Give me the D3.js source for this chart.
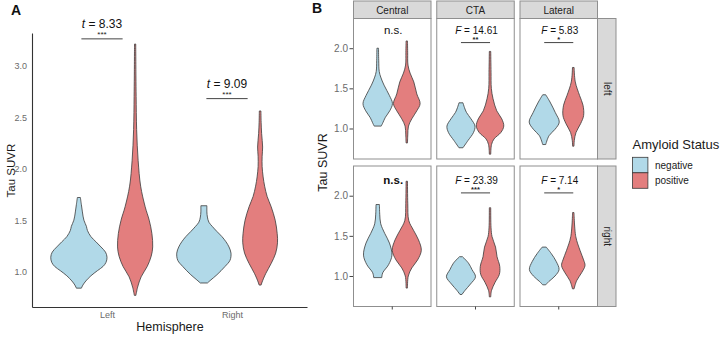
<!DOCTYPE html>
<html><head><meta charset="utf-8">
<script src="https://cdn.jsdelivr.net/npm/d3@7"></script>
<style>
body{margin:0;background:#fff}
text{font-family:"Liberation Sans",Arial,Helvetica,sans-serif}
</style>
</head><body>
<svg id="chart" width="725" height="337"></svg>
<script>
// ---------------- DATA ----------------
const hemispheres = ["Left", "Right"];
const statuses = ["negative", "positive"];
const ticksA = [1.0, 1.5, 2.0, 2.5, 3.0];
const tStats = ["8.33", "9.09"];
const tStars = ["***", "***"];
const tBracketY = [3.26, 2.68];

// Panel A violin outlines: [Tau SUVR, density (arbitrary units)]
const vA_Left_negative = [[1.72,1.5],[1.65,2.5],[1.58,3.5],[1.50,5],[1.44,7.5],[1.40,8.5],[1.34,12],[1.29,17],[1.24,22],[1.19,26.5],[1.14,28],[1.09,27],[1.05,24],[1.01,18.5],[0.96,12],[0.91,7],[0.87,4],[0.84,2.5]];
const vA_Left_positive = [[3.21,0.6],[2.90,0.8],[2.70,1],[2.38,1.5],[2.08,3],[1.83,5.5],[1.63,10],[1.50,14],[1.37,16.7],[1.24,17.5],[1.15,16],[1.05,12],[0.95,6],[0.85,2.5],[0.77,0.8]];
const vA_Right_negative = [[1.64,3],[1.58,3],[1.53,3.5],[1.48,5],[1.44,8.3],[1.39,13],[1.34,18],[1.29,22],[1.24,25],[1.18,27],[1.11,26],[1.05,21],[0.97,13],[0.92,7],[0.89,3.5]];
const vA_Right_positive = [[2.56,0.8],[2.45,1],[2.34,1.5],[2.21,2.5],[2.12,2],[2.02,2],[1.92,3],[1.83,4.5],[1.73,7],[1.63,11],[1.50,15],[1.37,17],[1.28,17.3],[1.18,15.5],[1.08,11],[0.98,5.5],[0.90,2],[0.87,1]];

const regions = ["Central", "CTA", "Lateral"];
const sides = ["left", "right"];
const ticksB = [1.0, 1.5, 2.0];
const fStats = [["n.s.", "14.61", "5.83"], ["n.s.", "23.39", "7.14"]];
const fStars = [["", "**", "*"], ["", "***", "*"]];
const fBracketY = [[2.07, 2.07, 2.07], [2.035, 2.035, 2.035]];

// Panel B violin outlines: [Tau SUVR, density (arbitrary units)]
const vB_left_Central_negative = [[2.00,0.8],[1.85,1],[1.71,1.5],[1.64,3],[1.54,6.3],[1.41,11.7],[1.31,14.7],[1.22,12],[1.14,7.7],[1.06,4.7],[1.03,3.5]];
const vB_left_Central_positive = [[2.09,0.7],[1.95,0.9],[1.79,1.2],[1.69,3.3],[1.58,7],[1.43,10],[1.31,13.3],[1.22,10],[1.12,5],[1.03,1.7],[0.92,1],[0.82,0.7]];
const vB_left_CTA_negative = [[1.32,2],[1.26,3.5],[1.20,5.5],[1.12,10],[1.03,14],[0.95,12.5],[0.85,7],[0.76,2]];
const vB_left_CTA_positive = [[1.96,0.7],[1.70,1],[1.50,1.3],[1.37,3],[1.22,6.7],[1.12,11.7],[1.03,13.7],[0.95,10.8],[0.87,4],[0.80,1.5],[0.68,0.7]];
const vB_left_Lateral_negative = [[1.42,1.5],[1.33,5.8],[1.20,11],[1.08,15],[0.99,10.8],[0.91,4.8],[0.80,1.5]];
const vB_left_Lateral_positive = [[1.76,0.8],[1.58,2],[1.41,6.3],[1.29,9.7],[1.16,10.3],[1.06,7.3],[0.95,2.7],[0.85,1],[0.78,0.7]];
const vB_right_Central_negative = [[1.89,1.7],[1.77,2],[1.65,3],[1.53,7],[1.41,11.7],[1.26,14.2],[1.14,10.8],[1.04,5],[0.98,4]];
const vB_right_Central_positive = [[2.18,0.7],[1.90,1],[1.69,2],[1.57,6.7],[1.45,11.7],[1.32,14.5],[1.20,10.8],[1.10,5],[1.00,1.5],[0.85,0.7]];
const vB_right_CTA_negative = [[1.24,1.5],[1.16,7.5],[1.08,11],[0.99,14.5],[0.90,9.5],[0.82,4],[0.77,1]];
const vB_right_CTA_positive = [[1.85,0.7],[1.60,1],[1.49,2],[1.36,5.5],[1.24,7],[1.12,9.7],[1.02,9.3],[0.92,5],[0.82,1.5],[0.74,0.7]];
const vB_right_Lateral_negative = [[1.36,2],[1.28,7],[1.18,12],[1.08,14.8],[1.00,10.8],[0.93,4.5],[0.89,1.5]];
const vB_right_Lateral_positive = [[1.79,0.7],[1.49,2.5],[1.32,6.7],[1.20,10.3],[1.13,11.7],[1.04,8.3],[0.94,3.3],[0.84,0.8]];

const violinsA = {
  Left: {negative: vA_Left_negative, positive: vA_Left_positive},
  Right: {negative: vA_Right_negative, positive: vA_Right_positive}
};
const violinsB = {
  left: {Central: {negative: vB_left_Central_negative, positive: vB_left_Central_positive},
         CTA: {negative: vB_left_CTA_negative, positive: vB_left_CTA_positive},
         Lateral: {negative: vB_left_Lateral_negative, positive: vB_left_Lateral_positive}},
  right: {Central: {negative: vB_right_Central_negative, positive: vB_right_Central_positive},
          CTA: {negative: vB_right_CTA_negative, positive: vB_right_CTA_positive},
          Lateral: {negative: vB_right_Lateral_negative, positive: vB_right_Lateral_positive}}
};

// ---------------- STYLE ----------------
const fillColor = d3.scaleOrdinal().domain(statuses).range(["#b1d9e8", "#e37e7e"]);
const outline = "#3a3a3a";
const svg = d3.select("#chart");

function violin(g, profile, cx, y, w, fill) {
  const area = d3.area()
    .curve(d3.curveCatmullRom.alpha(0.5))
    .y(d => y(d[0]))
    .x0(d => cx - w(d[1]))
    .x1(d => cx + w(d[1]));
  g.append("path").attr("d", area(profile))
    .attr("fill", fill).attr("stroke", outline).attr("stroke-width", 0.8)
    .attr("stroke-linejoin", "round");
}

// ---------------- PANEL A ----------------
const gA = svg.append("g");
const xA = d3.scalePoint().domain(hemispheres).range([32, 307]).padding(0.6);
const yA = d3.scaleLinear().domain([0.657, 3.317]).range([307, 33]);
const stepA = xA.step();
const dodgeA = d3.scalePoint().domain(statuses).range([-0.225 * stepA, 0.225 * stepA]);
const wA = d3.scaleLinear().domain([0, 28]).range([0, 0.225 * stepA]);

hemispheres.forEach(h => {
  statuses.forEach(s => {
    violin(gA, violinsA[h][s], xA(h) + dodgeA(s), yA, wA, fillColor(s));
  });
});

const axA = gA.append("g").attr("transform", "translate(32,0)")
  .call(d3.axisLeft(yA).tickValues(ticksA).tickFormat(d3.format(".1f")).tickSize(0).tickSizeOuter(0).tickPadding(5));
axA.select(".domain").attr("stroke", "#333").attr("stroke-width", 1.1);
axA.selectAll("text").attr("font-size", 9).attr("fill", "#6b6b6b").attr("font-family", "Liberation Sans, Arial, sans-serif");

const axAx = gA.append("g").attr("transform", "translate(0,307)")
  .call(d3.axisBottom(xA).tickSize(0).tickSizeOuter(0).tickPadding(5));
axAx.select(".domain").attr("stroke", "#333").attr("stroke-width", 1.1);
axAx.selectAll("text").attr("font-size", 9).attr("fill", "#6b6b6b").attr("font-family", "Liberation Sans, Arial, sans-serif");

gA.append("text").attr("x", xA("Left") + (xA("Right") - xA("Left")) / 2 + 0.5).attr("y", 331)
  .attr("text-anchor", "middle").attr("font-size", 12.5).attr("fill", "#1a1a1a").text("Hemisphere");
gA.append("text").attr("transform", `translate(15,${yA(2.0) + 2}) rotate(-90)`)
  .attr("text-anchor", "middle").attr("font-size", 11.5).attr("fill", "#1a1a1a").text("Tau SUVR");
gA.append("text").attr("x", 11).attr("y", 15).attr("font-size", 14).attr("font-weight", "bold").attr("fill", "#111").text("A");

hemispheres.forEach((h, i) => {
  const cx = xA(h) - 0.04 * stepA;
  const ly = yA(tBracketY[i]);
  gA.append("line").attr("x1", cx - 0.165 * stepA).attr("x2", cx + 0.165 * stepA)
    .attr("y1", ly).attr("y2", ly).attr("stroke", "#444").attr("stroke-width", 1);
  gA.append("text").attr("x", cx).attr("y", ly - 2).attr("text-anchor", "middle")
    .attr("font-size", 8).attr("fill", "#222").text(tStars[i]);
  const t = gA.append("text").attr("x", cx).attr("y", ly - 11).attr("text-anchor", "middle")
    .attr("font-size", 12).attr("fill", "#111");
  t.append("tspan").attr("font-style", "italic").text("t");
  t.append("tspan").text(" = " + tStats[i]);
});

// ---------------- PANEL B ----------------
const gB = svg.append("g");
const col = d3.scaleBand().domain(regions).range([353.5, 597.5]).paddingInner(0.069);
const row = d3.scaleBand().domain(sides).range([18.5, 306.5]).paddingInner(0.0475);
const pw = col.bandwidth(), ph = row.bandwidth();
const stepB = pw / 1.2;
const dodgeB = d3.scalePoint().domain(statuses).range([-0.225 * stepB, 0.225 * stepB]);
const wB = d3.scaleLinear().domain([0, 14.5]).range([0, 0.225 * stepB]);
const yDomainB = [0.62, 2.37];

gB.append("text").attr("x", 312).attr("y", 13).attr("font-size", 14).attr("font-weight", "bold").attr("fill", "#111").text("B");

// top strips
regions.forEach(r => {
  gB.append("rect").attr("x", col(r)).attr("y", 1).attr("width", pw).attr("height", 17.5)
    .attr("fill", "#d9d9d9").attr("stroke", "#8f8f8f").attr("stroke-width", 1);
  gB.append("text").attr("x", col(r) + pw / 2).attr("y", 13.5).attr("text-anchor", "middle")
    .attr("font-size", 10).attr("fill", "#222").text(r);
});

sides.forEach((sd, ri) => {
  const y0 = row(sd);
  const yB = d3.scaleLinear().domain(yDomainB).range([y0 + ph, y0]);
  // side strip
  gB.append("rect").attr("x", 597.5).attr("y", y0).attr("width", 18.5).attr("height", ph)
    .attr("fill", "#d9d9d9").attr("stroke", "#8f8f8f").attr("stroke-width", 1);
  gB.append("text").attr("transform", `translate(603.5,${y0 + ph / 2}) rotate(90)`)
    .attr("text-anchor", "middle").attr("font-size", 10).attr("fill", "#222").text(sd);

  // y axis
  const ay = gB.append("g").attr("transform", `translate(${col("Central")},0)`)
    .call(d3.axisLeft(yB).tickValues(ticksB).tickFormat(d3.format(".1f")).tickSize(4).tickPadding(1.5));
  ay.select(".domain").remove();
  ay.selectAll("line").attr("stroke", "#444");
  ay.selectAll("text").attr("font-size", 10).attr("fill", "#6b6b6b").attr("font-family", "Liberation Sans, Arial, sans-serif");

  regions.forEach((r, ci) => {
    const x0 = col(r), cx = x0 + pw / 2;
    const pg = gB.append("g");
    pg.append("rect").attr("x", x0).attr("y", y0).attr("width", pw).attr("height", ph)
      .attr("fill", "#fff").attr("stroke", "#8f8f8f").attr("stroke-width", 1);
    statuses.forEach(s => {
      violin(pg, violinsB[sd][r][s], cx + dodgeB(s), yB, wB, fillColor(s));
    });
    const ly = yB(fBracketY[ri][ci]);
    if (fStats[ri][ci] === "n.s.") {
      pg.append("text").attr("x", cx + 1).attr("y", ly - 8.5).attr("text-anchor", "middle")
        .attr("font-size", 11.5).attr("font-weight", ri === 1 ? "bold" : "normal").attr("fill", "#111").text("n.s.");
    } else {
      pg.append("line").attr("x1", cx + dodgeB("negative")).attr("x2", cx + dodgeB("positive"))
        .attr("y1", ly).attr("y2", ly).attr("stroke", "#444").attr("stroke-width", 1);
      pg.append("text").attr("x", cx).attr("y", ly - 0.5).attr("text-anchor", "middle")
        .attr("font-size", 7.5).attr("font-weight", "bold").attr("fill", "#222").text(fStars[ri][ci]);
      const t = pg.append("text").attr("x", cx + 1).attr("y", ly - 8.5).attr("text-anchor", "middle")
        .attr("font-size", 10).attr("fill", "#111");
      t.append("tspan").attr("font-style", "italic").text("F");
      t.append("tspan").text(" = " + fStats[ri][ci]);
    }
    if (ri === 1) {
      pg.append("line").attr("x1", cx).attr("x2", cx).attr("y1", y0 + ph).attr("y2", y0 + ph + 3)
        .attr("stroke", "#444").attr("stroke-width", 1);
    }
  });
});

gB.append("text").attr("transform", `translate(327,${(row("left") + row("right") + ph) / 2}) rotate(-90)`)
  .attr("text-anchor", "middle").attr("font-size", 12.5).attr("fill", "#1a1a1a").text("Tau SUVR");

// ---------------- LEGEND ----------------
const lg = svg.append("g").attr("transform", "translate(632.5,0)");
lg.append("text").attr("x", 0).attr("y", 148.5).attr("font-size", 13).attr("fill", "#1a1a1a").text("Amyloid Status");
const ky = d3.scaleBand().domain(statuses).range([157.3, 188.3]);
statuses.forEach(s => {
  lg.append("rect").attr("x", 0).attr("y", ky(s)).attr("width", 15.4).attr("height", ky.bandwidth())
    .attr("fill", fillColor(s)).attr("stroke", outline).attr("stroke-width", 0.8);
  lg.append("text").attr("x", 22.5).attr("y", ky(s) + ky.bandwidth() / 2 + 3.5)
    .attr("font-size", 10).attr("fill", "#1a1a1a").text(s);
});
</script>
</body></html>
